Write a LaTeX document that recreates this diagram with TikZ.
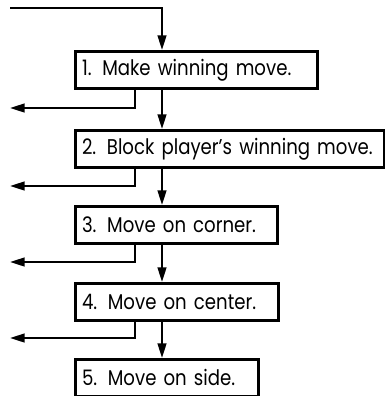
\documentclass[tikz,border=0pt]{standalone}
\usepackage{fontspec}
\setmainfont{Poppins}[FakeStretch=0.85]
\usetikzlibrary{arrows.meta}
\tikzset{
  stepbox/.style={draw, line width=2pt, anchor=north west, minimum height=28pt, inner sep=0pt, inner xsep=5pt, align=left, font=\fontsize{16}{18}\selectfont},
  conn/.style={line width=1.8pt, -{Triangle[length=11pt,width=6.5pt]}}
}
\begin{document}
\begin{tikzpicture}[x=0.75pt,y=-0.75pt]
\useasboundingbox (0,0) rectangle (385,396);
\node[stepbox, minimum width=181.5pt, text width=171.5pt] (b1) at (74,50) {1. Make winning move.};
\node[stepbox, minimum width=231.75pt, text width=221.75pt, minimum height=27.75pt] (b2) at (74,129) {2. Block player’s winning move.};
\node[stepbox, minimum width=151.5pt, text width=141.5pt] (b3) at (74,205) {3. Move on corner.};
\node[stepbox, minimum width=152.25pt, text width=142.25pt] (b4) at (74,282) {4. Move on center.};
\node[stepbox, minimum width=137.25pt, text width=127.25pt, minimum height=27.75pt] (b5) at (74,358) {5. Move on side.};
\coordinate (start) at (10,8);
\coordinate (mx) at (162,0);
\coordinate (sx) at (135,0);
\coordinate (e1) at (10,108);
\coordinate (e2) at (10,186);
\coordinate (e3) at (10,262);
\coordinate (e4) at (10,338);
\draw[conn] (start) -| (b1.north -| mx);
\draw[conn] (b1.south -| mx) -- (b2.north -| mx);
\draw[conn] (b2.south -| mx) -- (b3.north -| mx);
\draw[conn] (b3.south -| mx) -- (b4.north -| mx);
\draw[conn] (b4.south -| mx) -- (b5.north -| mx);
\draw[conn] (b1.south -| sx) |- (e1);
\draw[conn] (b2.south -| sx) |- (e2);
\draw[conn] (b3.south -| sx) |- (e3);
\draw[conn] (b4.south -| sx) |- (e4);
\end{tikzpicture}
\end{document}
